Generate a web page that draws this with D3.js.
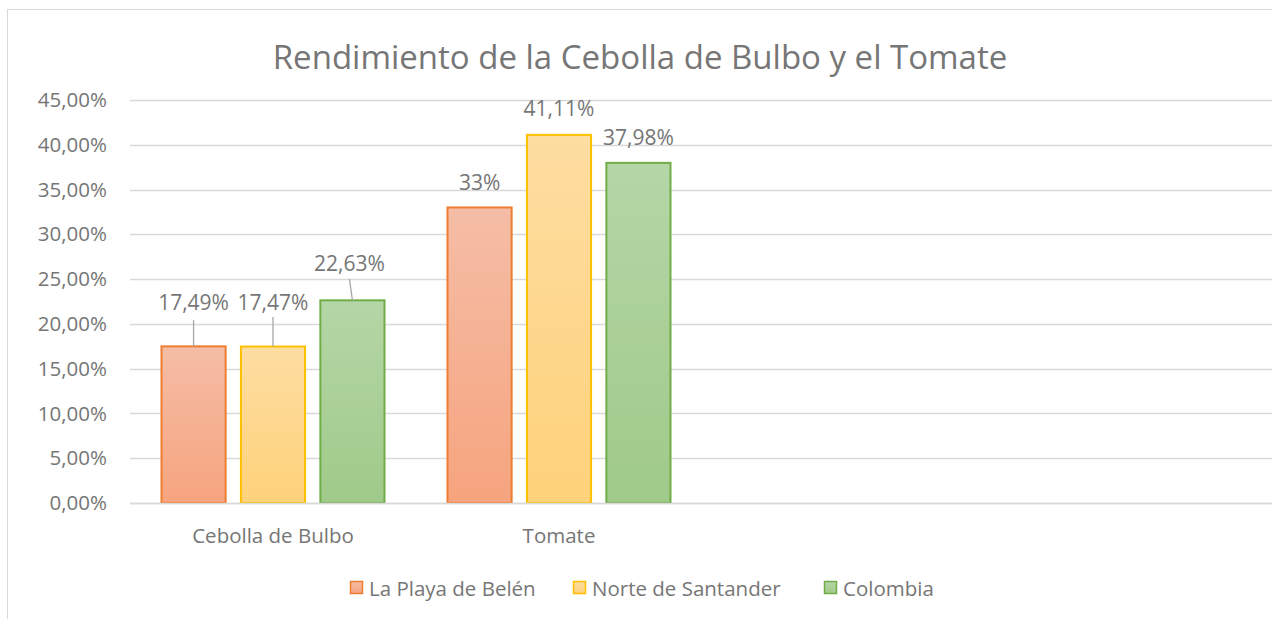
<!DOCTYPE html>
<html>
<head>
<meta charset="utf-8">
<script src="https://cdn.jsdelivr.net/npm/d3@7"></script>
<style>
  body { margin: 0; background: #fff; }
  text { font-family: "Open Sans", sans-serif; fill: #767676; }
</style>
</head>
<body>
<script>
// data:
var categories = ["Cebolla de Bulbo", "Tomate", "", " "];
var series = ["La Playa de Belén", "Norte de Santander", "Colombia"];
var playa = [17.49, 33, null, null];
var norte = [17.47, 41.11, null, null];
var colombia = [22.63, 37.98, null, null];
var valueLabels = [["17,49%", "33%"], ["17,47%", "41,11%"], ["22,63%", "37,98%"]];
var yTicks = [0, 5, 10, 15, 20, 25, 30, 35, 40, 45];

var seriesValues = [playa, norte, colombia];
var strokes = ["#ed7d31", "#ffc000", "#70ad47"];
var topFill = ["#f5bda6", "#fedda2", "#b5d6a7"];
var botFill = ["#f6a47e", "#fed27a", "#9fca89"];
var txtColor = "#767676";

// svg size:
var w_svg = 1272, h_svg = 619;
var svg = d3.select("body").append("svg")
  .attr("width", w_svg).attr("height", h_svg);

// chart border
svg.append("rect").attr("x", 7.5).attr("y", 9.5)
  .attr("width", 1280).attr("height", 640)
  .attr("fill", "none").attr("stroke", "#d9d9d9");

// gradients
var defs = svg.append("defs");
series.forEach(function(s, i) {
  var g = defs.append("linearGradient").attr("id", "grad" + i)
    .attr("x1", 0).attr("y1", 0).attr("x2", 0).attr("y2", 1);
  g.append("stop").attr("offset", "0%").attr("stop-color", topFill[i]);
  g.append("stop").attr("offset", "100%").attr("stop-color", botFill[i]);
});

// scales
var pLeft = 130, pRight = 1274, pTop = 100, pBottom = 503;
var xScale = d3.scaleBand().domain(categories).range([pLeft, pRight]);
var yScale = d3.scaleLinear().domain([0, 45]).range([pBottom, pTop]);
var xInner = d3.scaleBand().domain(series).range([31, 255]).paddingInner(0.18);

// gridlines
svg.append("g").selectAll("line").data(yTicks).enter().append("line")
  .attr("x1", pLeft).attr("x2", pRight)
  .attr("y1", function(d) { return Math.round(yScale(d)) + 0.5; })
  .attr("y2", function(d) { return Math.round(yScale(d)) + 0.5; })
  .attr("stroke", "#d9d9d9").attr("stroke-width", 1.3);

// y labels
var y_axis = d3.axisLeft(yScale).tickValues(yTicks).tickSize(0).tickPadding(23)
  .tickFormat(function(d) { return d.toFixed(2).replace(".", ",") + "%"; });
var ga = svg.append("g").attr("transform", "translate(" + pLeft + ",0)").call(y_axis);
ga.select(".domain").remove();
ga.selectAll("text").style("font-size", "20.5px").attr("fill", txtColor)
  .style("font-family", "'Open Sans', sans-serif");

// x labels
var x_axis = d3.axisBottom(xScale).tickSize(0).tickPadding(25);
var gx = svg.append("g").attr("transform", "translate(0," + pBottom + ")").call(x_axis);
gx.select(".domain").remove();
gx.selectAll("text").style("font-size", "20.5px").attr("fill", txtColor)
  .style("font-family", "'Open Sans', sans-serif");

// bars
seriesValues.forEach(function(vals, si) {
  var pts = vals.map(function(v, ci) { return { c: categories[ci], v: v }; })
    .filter(function(d) { return d.v !== null; });
  svg.append("g").selectAll("rect").data(pts).enter().append("rect")
    .attr("x", function(d) { return xScale(d.c) + xInner(series[si]) + 0.5; })
    .attr("y", function(d) { return yScale(d.v); })
    .attr("width", xInner.bandwidth() - 1)
    .attr("height", function(d) { return pBottom - yScale(d.v); })
    .attr("fill", "url(#grad" + si + ")")
    .attr("stroke", strokes[si]).attr("stroke-width", 2);
});

// data labels (moved by hand in the original, with leader lines)
var labelPos = [
  [{ dx: 0, y: 302, lead: [320, 0] }, { dx: 0, y: 182, lead: null }],
  [{ dx: 0, y: 302, lead: [317, 0] }, { dx: 0, y: 108, lead: null }],
  [{ dx: -3, y: 263, lead: [279, -3] }, { dx: 0, y: 137, lead: null }]
];
seriesValues.forEach(function(vals, si) {
  vals.forEach(function(v, ci) {
    if (v === null) return;
    var cx = xScale(categories[ci]) + xInner(series[si]) + xInner.bandwidth() / 2;
    var p = labelPos[si][ci];
    if (p.lead) {
      svg.append("line")
        .attr("x1", cx + p.lead[1]).attr("y1", p.lead[0])
        .attr("x2", cx).attr("y2", yScale(v))
        .attr("stroke", "#a6a6a6").attr("stroke-width", 1.3);
    }
    svg.append("text").attr("x", cx + p.dx).attr("y", p.y)
      .attr("text-anchor", "middle").attr("dominant-baseline", "central")
      .style("font-size", "21px").text(valueLabels[si][ci]);
  });
});

// x axis line
svg.append("line").attr("x1", pLeft).attr("x2", pRight)
  .attr("y1", pBottom + 0.5).attr("y2", pBottom + 0.5)
  .attr("stroke", "#d9d9d9").attr("stroke-width", 1.5);

// title
svg.append("text").attr("x", 640).attr("y", 56)
  .attr("text-anchor", "middle").attr("dominant-baseline", "central")
  .style("font-size", "33px").text("Rendimiento de la Cebolla de Bulbo y el Tomate");

// legend
var legendX = [350, 573, 824];
var lg = svg.append("g").selectAll("g").data(series).enter().append("g")
  .attr("transform", function(d, i) { return "translate(" + legendX[i] + ",581)"; });
lg.append("rect").attr("x", 0.5).attr("y", 0.5).attr("width", 12).attr("height", 12)
  .attr("fill", function(d, i) { return "url(#grad" + i + ")"; })
  .attr("stroke", function(d, i) { return strokes[i]; }).attr("stroke-width", 1.5);
lg.append("text").attr("x", 19).attr("y", 7)
  .attr("dominant-baseline", "central").style("font-size", "20.5px")
  .text(function(d) { return d; });
</script>
</body>
</html>
